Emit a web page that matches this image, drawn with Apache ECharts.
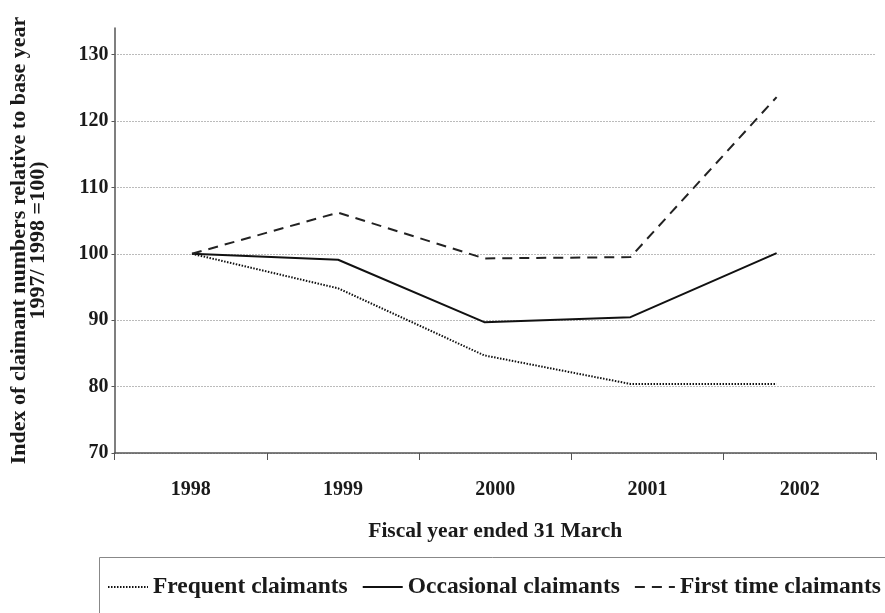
<!DOCTYPE html>
<html><head><meta charset="utf-8">
<script src="https://cdn.jsdelivr.net/npm/echarts@6/dist/echarts.min.js"></script>
<style>html,body{margin:0;padding:0;background:#fff}#c{width:885px;height:613px}</style>
</head><body><div id="c"></div>
<script>
const categories = ['1998', '1999', '2000', '2001', '2002'];
const frequent = [100, 94.8, 84.7, 80.4, 80.4];
const occasional = [100, 99.1, 89.7, 90.45, 100.1];
const firstTime = [100, 106.2, 99.3, 99.5, 123.6];
const yTicks = [70, 80, 90, 100, 110, 120, 130];

const FONT = 'Liberation Serif';
const pts = arr => arr.map((v, i) => [i, v]);
const chart = echarts.init(document.getElementById('c'));
chart.setOption({
  animation: false,
  backgroundColor: '#fff',
  grid: { left: 114, right: 9, top: 28, bottom: 160 },
  xAxis: [{
    type: 'category', data: categories, boundaryGap: true,
    axisLine: { lineStyle: { color: '#555', width: 1.5 } },
    axisTick: { show: true, inside: false, length: 7, lineStyle: { color: '#555' } },
    axisLabel: { margin: 27, color: '#1a1a1a', fontFamily: FONT, fontWeight: 'bold', fontSize: 20 },
    name: 'Fiscal year ended 31 March', nameLocation: 'middle', nameGap: 67,
    nameTextStyle: { color: '#1a1a1a', fontFamily: FONT, fontWeight: 'bold', fontSize: 21.5 }
  }, {
    type: 'value', min: -0.53, max: 4.68, show: false
  }],
  yAxis: {
    type: 'value', min: 70, max: 134, interval: 10,
    axisLine: { show: true, onZero: false, lineStyle: { color: '#555', width: 1.5 } },
    axisTick: { show: true, length: 3, lineStyle: { color: '#555' } },
    axisLabel: { showMaxLabel: false, margin: 6, color: '#1a1a1a', fontFamily: FONT, fontWeight: 'bold', fontSize: 20,
      formatter: v => yTicks.includes(v) ? String(v) : '' },
    splitLine: { show: true, showMaxLine: false, lineStyle: { color: '#777', type: [1, 2], width: 1 } },
    name: 'Index of claimant numbers relative to base year\n1997/ 1998 =100)',
    nameLocation: 'middle', nameRotate: 90, nameGap: 67,
    nameTextStyle: { color: '#1a1a1a', fontFamily: FONT, fontWeight: 'bold', fontSize: 22, lineHeight: 19,
      align: 'center' }
  },
  legend: {
    left: 107, top: 575, itemWidth: 40, itemHeight: 12, itemGap: 14, padding: 0,
    itemStyle: { opacity: 0, color: 'rgba(0,0,0,0)', borderWidth: 0 },
    textStyle: { color: '#1a1a1a', fontFamily: FONT, fontWeight: 'bold', fontSize: 23.5 },
    data: ['Frequent claimants', 'Occasional claimants', 'First time claimants']
  },
  graphic: [{
    type: 'rect', left: 97, top: 555, shape: { width: 900, height: 120 },
    style: { fill: 'none', stroke: '#888', lineWidth: 1 }, silent: true
  }],
  series: [{
    name: 'Frequent claimants', type: 'line', xAxisIndex: 1, data: pts(frequent),
    symbol: 'none', lineStyle: { color: '#111', width: 2, type: [1.5, 1.5] }
  }, {
    name: 'Occasional claimants', type: 'line', xAxisIndex: 1, data: pts(occasional),
    symbol: 'none', lineStyle: { color: '#111', width: 2, type: 'solid' }
  }, {
    name: 'First time claimants', type: 'line', xAxisIndex: 1, data: pts(firstTime),
    symbol: 'none', lineStyle: { color: '#222', width: 2, type: [10, 7] }
  }]
});
</script></body></html>
